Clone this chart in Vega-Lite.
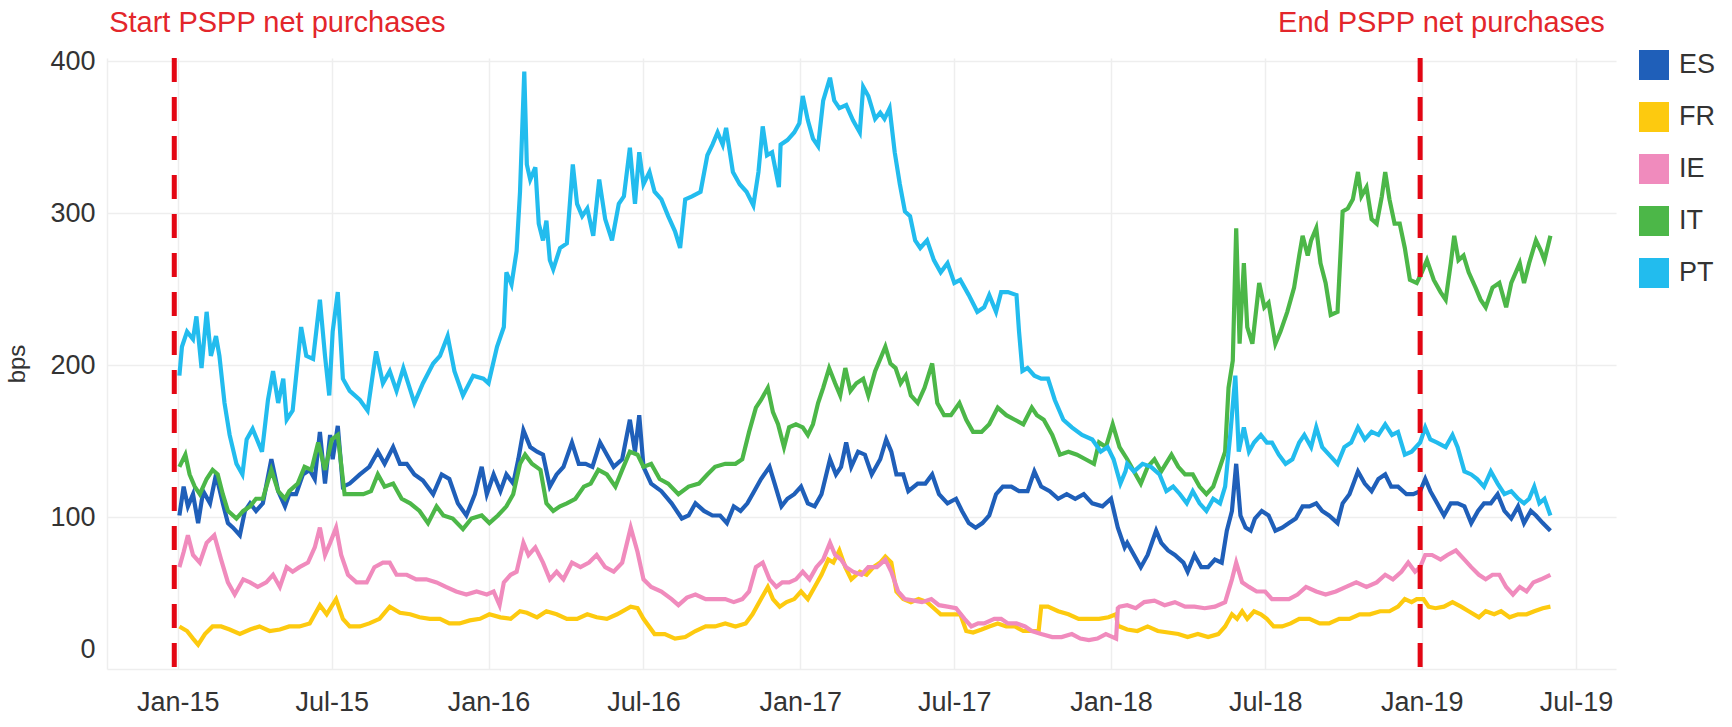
{
"$schema": "https://vega.github.io/schema/vega-lite/v6.json",
"width": 1509,
"height": 611,
"padding": {"left": 5, "top": 9, "right": 40, "bottom": 5},
"background": "white",
"config": {"view": {"stroke": null}, "font": "Liberation Sans"},
"datasets": {
"ev": [{"d": "2014-12-28"}, {"d": "2018-12-30"}],
"lab": [{"d": "2015-04-28", "v": 425, "t": "Start PSPP net purchases"}, {"d": "2019-01-24", "v": 425, "t": "End PSPP net purchases"}],
"s": [
{"c":"ES","d":"2015-01-03","v":101},{"c":"ES","d":"2015-01-08","v":120},{"c":"ES","d":"2015-01-13","v":107},{"c":"ES","d":"2015-01-19","v":115},{"c":"ES","d":"2015-01-25","v":96},{"c":"ES","d":"2015-01-31","v":117},{"c":"ES","d":"2015-02-08","v":109},{"c":"ES","d":"2015-02-15","v":128},{"c":"ES","d":"2015-02-23","v":109},{"c":"ES","d":"2015-03-01","v":96},{"c":"ES","d":"2015-03-07","v":93},{"c":"ES","d":"2015-03-15","v":88},{"c":"ES","d":"2015-03-21","v":104},{"c":"ES","d":"2015-03-27","v":109},{"c":"ES","d":"2015-04-03","v":104},{"c":"ES","d":"2015-04-11","v":109},{"c":"ES","d":"2015-04-21","v":138},{"c":"ES","d":"2015-04-29","v":117},{"c":"ES","d":"2015-05-07","v":107},{"c":"ES","d":"2015-05-12","v":115},{"c":"ES","d":"2015-05-20","v":115},{"c":"ES","d":"2015-05-28","v":128},{"c":"ES","d":"2015-06-05","v":131},{"c":"ES","d":"2015-06-11","v":125},{"c":"ES","d":"2015-06-17","v":156},{"c":"ES","d":"2015-06-23","v":122},{"c":"ES","d":"2015-06-29","v":154},{"c":"ES","d":"2015-07-02","v":138},{"c":"ES","d":"2015-07-08","v":160},{"c":"ES","d":"2015-07-14","v":120},{"c":"ES","d":"2015-07-22","v":122},{"c":"ES","d":"2015-08-03","v":128},{"c":"ES","d":"2015-08-14","v":133},{"c":"ES","d":"2015-08-24","v":143},{"c":"ES","d":"2015-09-01","v":135},{"c":"ES","d":"2015-09-11","v":146},{"c":"ES","d":"2015-09-19","v":135},{"c":"ES","d":"2015-09-27","v":135},{"c":"ES","d":"2015-10-06","v":128},{"c":"ES","d":"2015-10-16","v":124},{"c":"ES","d":"2015-10-28","v":115},{"c":"ES","d":"2015-11-07","v":128},{"c":"ES","d":"2015-11-16","v":125},{"c":"ES","d":"2015-11-26","v":109},{"c":"ES","d":"2015-12-06","v":101},{"c":"ES","d":"2015-12-16","v":115},{"c":"ES","d":"2015-12-24","v":133},{"c":"ES","d":"2015-12-30","v":115},{"c":"ES","d":"2016-01-07","v":128},{"c":"ES","d":"2016-01-15","v":117},{"c":"ES","d":"2016-01-22","v":128},{"c":"ES","d":"2016-01-30","v":122},{"c":"ES","d":"2016-02-05","v":138},{"c":"ES","d":"2016-02-11","v":157},{"c":"ES","d":"2016-02-19","v":146},{"c":"ES","d":"2016-02-27","v":143},{"c":"ES","d":"2016-03-05","v":141},{"c":"ES","d":"2016-03-13","v":120},{"c":"ES","d":"2016-03-21","v":128},{"c":"ES","d":"2016-03-29","v":133},{"c":"ES","d":"2016-04-08","v":149},{"c":"ES","d":"2016-04-16","v":135},{"c":"ES","d":"2016-04-24","v":135},{"c":"ES","d":"2016-05-02","v":133},{"c":"ES","d":"2016-05-11","v":149},{"c":"ES","d":"2016-05-19","v":141},{"c":"ES","d":"2016-05-27","v":133},{"c":"ES","d":"2016-06-06","v":138},{"c":"ES","d":"2016-06-15","v":164},{"c":"ES","d":"2016-06-21","v":143},{"c":"ES","d":"2016-06-26","v":167},{"c":"ES","d":"2016-07-01","v":133},{"c":"ES","d":"2016-07-10","v":122},{"c":"ES","d":"2016-07-22","v":117},{"c":"ES","d":"2016-08-03","v":109},{"c":"ES","d":"2016-08-15","v":99},{"c":"ES","d":"2016-08-23","v":101},{"c":"ES","d":"2016-08-31","v":109},{"c":"ES","d":"2016-09-10","v":104},{"c":"ES","d":"2016-09-20","v":101},{"c":"ES","d":"2016-09-29","v":101},{"c":"ES","d":"2016-10-07","v":96},{"c":"ES","d":"2016-10-15","v":107},{"c":"ES","d":"2016-10-23","v":104},{"c":"ES","d":"2016-10-31","v":109},{"c":"ES","d":"2016-11-08","v":117},{"c":"ES","d":"2016-11-16","v":125},{"c":"ES","d":"2016-11-26","v":133},{"c":"ES","d":"2016-12-02","v":122},{"c":"ES","d":"2016-12-10","v":107},{"c":"ES","d":"2016-12-17","v":112},{"c":"ES","d":"2016-12-25","v":115},{"c":"ES","d":"2017-01-02","v":120},{"c":"ES","d":"2017-01-10","v":109},{"c":"ES","d":"2017-01-18","v":107},{"c":"ES","d":"2017-01-26","v":115},{"c":"ES","d":"2017-02-05","v":138},{"c":"ES","d":"2017-02-12","v":128},{"c":"ES","d":"2017-02-18","v":133},{"c":"ES","d":"2017-02-24","v":149},{"c":"ES","d":"2017-03-02","v":133},{"c":"ES","d":"2017-03-10","v":143},{"c":"ES","d":"2017-03-18","v":141},{"c":"ES","d":"2017-03-26","v":128},{"c":"ES","d":"2017-04-05","v":138},{"c":"ES","d":"2017-04-12","v":151},{"c":"ES","d":"2017-04-18","v":143},{"c":"ES","d":"2017-04-24","v":128},{"c":"ES","d":"2017-05-02","v":128},{"c":"ES","d":"2017-05-08","v":117},{"c":"ES","d":"2017-05-19","v":122},{"c":"ES","d":"2017-05-28","v":122},{"c":"ES","d":"2017-06-05","v":128},{"c":"ES","d":"2017-06-13","v":115},{"c":"ES","d":"2017-06-23","v":109},{"c":"ES","d":"2017-07-03","v":112},{"c":"ES","d":"2017-07-10","v":104},{"c":"ES","d":"2017-07-18","v":96},{"c":"ES","d":"2017-07-26","v":93},{"c":"ES","d":"2017-08-03","v":96},{"c":"ES","d":"2017-08-11","v":101},{"c":"ES","d":"2017-08-19","v":115},{"c":"ES","d":"2017-08-27","v":120},{"c":"ES","d":"2017-09-06","v":120},{"c":"ES","d":"2017-09-15","v":117},{"c":"ES","d":"2017-09-25","v":117},{"c":"ES","d":"2017-10-03","v":130},{"c":"ES","d":"2017-10-11","v":120},{"c":"ES","d":"2017-10-21","v":117},{"c":"ES","d":"2017-10-31","v":112},{"c":"ES","d":"2017-11-10","v":115},{"c":"ES","d":"2017-11-20","v":112},{"c":"ES","d":"2017-11-30","v":115},{"c":"ES","d":"2017-12-10","v":109},{"c":"ES","d":"2017-12-22","v":107},{"c":"ES","d":"2018-01-01","v":112},{"c":"ES","d":"2018-01-09","v":93},{"c":"ES","d":"2018-01-17","v":80},{"c":"ES","d":"2018-01-20","v":83},{"c":"ES","d":"2018-01-28","v":75},{"c":"ES","d":"2018-02-05","v":67},{"c":"ES","d":"2018-02-13","v":75},{"c":"ES","d":"2018-02-23","v":91},{"c":"ES","d":"2018-03-01","v":83},{"c":"ES","d":"2018-03-09","v":78},{"c":"ES","d":"2018-03-17","v":75},{"c":"ES","d":"2018-03-27","v":70},{"c":"ES","d":"2018-04-01","v":64},{"c":"ES","d":"2018-04-09","v":75},{"c":"ES","d":"2018-04-17","v":67},{"c":"ES","d":"2018-04-25","v":67},{"c":"ES","d":"2018-05-03","v":72},{"c":"ES","d":"2018-05-11","v":70},{"c":"ES","d":"2018-05-17","v":91},{"c":"ES","d":"2018-05-23","v":104},{"c":"ES","d":"2018-05-28","v":135},{"c":"ES","d":"2018-06-02","v":101},{"c":"ES","d":"2018-06-08","v":93},{"c":"ES","d":"2018-06-14","v":91},{"c":"ES","d":"2018-06-19","v":99},{"c":"ES","d":"2018-06-27","v":104},{"c":"ES","d":"2018-07-05","v":101},{"c":"ES","d":"2018-07-13","v":91},{"c":"ES","d":"2018-07-21","v":93},{"c":"ES","d":"2018-07-29","v":96},{"c":"ES","d":"2018-08-06","v":99},{"c":"ES","d":"2018-08-14","v":107},{"c":"ES","d":"2018-08-22","v":107},{"c":"ES","d":"2018-08-30","v":109},{"c":"ES","d":"2018-09-06","v":104},{"c":"ES","d":"2018-09-14","v":101},{"c":"ES","d":"2018-09-24","v":96},{"c":"ES","d":"2018-09-30","v":109},{"c":"ES","d":"2018-10-08","v":115},{"c":"ES","d":"2018-10-18","v":130},{"c":"ES","d":"2018-10-26","v":122},{"c":"ES","d":"2018-11-03","v":117},{"c":"ES","d":"2018-11-11","v":125},{"c":"ES","d":"2018-11-19","v":128},{"c":"ES","d":"2018-11-26","v":120},{"c":"ES","d":"2018-12-04","v":120},{"c":"ES","d":"2018-12-14","v":115},{"c":"ES","d":"2018-12-22","v":115},{"c":"ES","d":"2018-12-30","v":117},{"c":"ES","d":"2019-01-05","v":125},{"c":"ES","d":"2019-01-11","v":117},{"c":"ES","d":"2019-01-19","v":109},{"c":"ES","d":"2019-01-27","v":101},{"c":"ES","d":"2019-02-04","v":109},{"c":"ES","d":"2019-02-12","v":109},{"c":"ES","d":"2019-02-20","v":107},{"c":"ES","d":"2019-02-28","v":96},{"c":"ES","d":"2019-03-08","v":104},{"c":"ES","d":"2019-03-15","v":109},{"c":"ES","d":"2019-03-23","v":109},{"c":"ES","d":"2019-03-31","v":115},{"c":"ES","d":"2019-04-08","v":104},{"c":"ES","d":"2019-04-16","v":99},{"c":"ES","d":"2019-04-24","v":107},{"c":"ES","d":"2019-05-01","v":96},{"c":"ES","d":"2019-05-09","v":104},{"c":"ES","d":"2019-05-15","v":101},{"c":"ES","d":"2019-05-23","v":96},{"c":"ES","d":"2019-06-01","v":91},

{"c":"FR","d":"2015-01-03","v":28},{"c":"FR","d":"2015-01-12","v":25},{"c":"FR","d":"2015-01-19","v":20},{"c":"FR","d":"2015-01-25","v":16},{"c":"FR","d":"2015-02-02","v":23},{"c":"FR","d":"2015-02-11","v":28},{"c":"FR","d":"2015-02-21","v":28},{"c":"FR","d":"2015-03-03","v":26},{"c":"FR","d":"2015-03-15","v":23},{"c":"FR","d":"2015-03-27","v":26},{"c":"FR","d":"2015-04-07","v":28},{"c":"FR","d":"2015-04-19","v":25},{"c":"FR","d":"2015-05-01","v":26},{"c":"FR","d":"2015-05-12","v":28},{"c":"FR","d":"2015-05-24","v":28},{"c":"FR","d":"2015-06-05","v":30},{"c":"FR","d":"2015-06-17","v":42},{"c":"FR","d":"2015-06-25","v":36},{"c":"FR","d":"2015-07-06","v":46},{"c":"FR","d":"2015-07-14","v":33},{"c":"FR","d":"2015-07-22","v":28},{"c":"FR","d":"2015-08-03","v":28},{"c":"FR","d":"2015-08-14","v":30},{"c":"FR","d":"2015-08-26","v":33},{"c":"FR","d":"2015-09-07","v":41},{"c":"FR","d":"2015-09-19","v":37},{"c":"FR","d":"2015-10-01","v":36},{"c":"FR","d":"2015-10-12","v":34},{"c":"FR","d":"2015-10-24","v":33},{"c":"FR","d":"2015-11-05","v":33},{"c":"FR","d":"2015-11-16","v":30},{"c":"FR","d":"2015-11-28","v":30},{"c":"FR","d":"2015-12-10","v":32},{"c":"FR","d":"2015-12-22","v":33},{"c":"FR","d":"2016-01-02","v":36},{"c":"FR","d":"2016-01-15","v":34},{"c":"FR","d":"2016-01-27","v":33},{"c":"FR","d":"2016-02-07","v":38},{"c":"FR","d":"2016-02-15","v":37},{"c":"FR","d":"2016-02-27","v":34},{"c":"FR","d":"2016-03-09","v":38},{"c":"FR","d":"2016-03-21","v":36},{"c":"FR","d":"2016-04-02","v":33},{"c":"FR","d":"2016-04-14","v":33},{"c":"FR","d":"2016-04-26","v":36},{"c":"FR","d":"2016-05-07","v":34},{"c":"FR","d":"2016-05-19","v":33},{"c":"FR","d":"2016-05-31","v":36},{"c":"FR","d":"2016-06-16","v":41},{"c":"FR","d":"2016-06-24","v":40},{"c":"FR","d":"2016-07-01","v":33},{"c":"FR","d":"2016-07-14","v":23},{"c":"FR","d":"2016-07-26","v":23},{"c":"FR","d":"2016-08-07","v":20},{"c":"FR","d":"2016-08-19","v":21},{"c":"FR","d":"2016-08-31","v":25},{"c":"FR","d":"2016-09-12","v":28},{"c":"FR","d":"2016-09-23","v":28},{"c":"FR","d":"2016-10-05","v":30},{"c":"FR","d":"2016-10-17","v":28},{"c":"FR","d":"2016-10-29","v":30},{"c":"FR","d":"2016-11-06","v":36},{"c":"FR","d":"2016-11-16","v":46},{"c":"FR","d":"2016-11-24","v":54},{"c":"FR","d":"2016-11-30","v":46},{"c":"FR","d":"2016-12-08","v":41},{"c":"FR","d":"2016-12-16","v":44},{"c":"FR","d":"2016-12-25","v":46},{"c":"FR","d":"2017-01-02","v":51},{"c":"FR","d":"2017-01-10","v":46},{"c":"FR","d":"2017-01-18","v":54},{"c":"FR","d":"2017-01-26","v":62},{"c":"FR","d":"2017-02-03","v":72},{"c":"FR","d":"2017-02-09","v":70},{"c":"FR","d":"2017-02-16","v":78},{"c":"FR","d":"2017-02-23","v":67},{"c":"FR","d":"2017-03-02","v":59},{"c":"FR","d":"2017-03-12","v":64},{"c":"FR","d":"2017-03-20","v":62},{"c":"FR","d":"2017-03-28","v":67},{"c":"FR","d":"2017-04-05","v":70},{"c":"FR","d":"2017-04-11","v":74},{"c":"FR","d":"2017-04-18","v":70},{"c":"FR","d":"2017-04-24","v":51},{"c":"FR","d":"2017-05-02","v":46},{"c":"FR","d":"2017-05-11","v":44},{"c":"FR","d":"2017-05-20","v":46},{"c":"FR","d":"2017-05-30","v":44},{"c":"FR","d":"2017-06-07","v":40},{"c":"FR","d":"2017-06-15","v":36},{"c":"FR","d":"2017-06-23","v":36},{"c":"FR","d":"2017-07-01","v":36},{"c":"FR","d":"2017-07-08","v":36},{"c":"FR","d":"2017-07-15","v":25},{"c":"FR","d":"2017-07-23","v":24},{"c":"FR","d":"2017-08-02","v":26},{"c":"FR","d":"2017-08-11","v":28},{"c":"FR","d":"2017-08-21","v":30},{"c":"FR","d":"2017-08-31","v":28},{"c":"FR","d":"2017-09-10","v":28},{"c":"FR","d":"2017-09-20","v":25},{"c":"FR","d":"2017-09-30","v":25},{"c":"FR","d":"2017-10-08","v":25},{"c":"FR","d":"2017-10-11","v":41},{"c":"FR","d":"2017-10-19","v":41},{"c":"FR","d":"2017-10-31","v":38},{"c":"FR","d":"2017-11-12","v":36},{"c":"FR","d":"2017-11-24","v":33},{"c":"FR","d":"2017-12-06","v":33},{"c":"FR","d":"2017-12-18","v":33},{"c":"FR","d":"2017-12-29","v":34},{"c":"FR","d":"2018-01-07","v":36},{"c":"FR","d":"2018-01-09","v":28},{"c":"FR","d":"2018-01-11","v":28},{"c":"FR","d":"2018-01-20","v":26},{"c":"FR","d":"2018-02-01","v":25},{"c":"FR","d":"2018-02-13","v":28},{"c":"FR","d":"2018-02-25","v":25},{"c":"FR","d":"2018-03-09","v":24},{"c":"FR","d":"2018-03-21","v":23},{"c":"FR","d":"2018-04-01","v":21},{"c":"FR","d":"2018-04-13","v":23},{"c":"FR","d":"2018-04-25","v":21},{"c":"FR","d":"2018-05-07","v":23},{"c":"FR","d":"2018-05-15","v":28},{"c":"FR","d":"2018-05-23","v":36},{"c":"FR","d":"2018-05-29","v":33},{"c":"FR","d":"2018-06-04","v":38},{"c":"FR","d":"2018-06-10","v":33},{"c":"FR","d":"2018-06-18","v":38},{"c":"FR","d":"2018-06-26","v":36},{"c":"FR","d":"2018-07-03","v":33},{"c":"FR","d":"2018-07-11","v":28},{"c":"FR","d":"2018-07-21","v":28},{"c":"FR","d":"2018-07-31","v":30},{"c":"FR","d":"2018-08-10","v":33},{"c":"FR","d":"2018-08-22","v":33},{"c":"FR","d":"2018-09-03","v":30},{"c":"FR","d":"2018-09-14","v":30},{"c":"FR","d":"2018-09-26","v":33},{"c":"FR","d":"2018-10-08","v":33},{"c":"FR","d":"2018-10-20","v":36},{"c":"FR","d":"2018-11-01","v":36},{"c":"FR","d":"2018-11-13","v":38},{"c":"FR","d":"2018-11-24","v":38},{"c":"FR","d":"2018-12-04","v":41},{"c":"FR","d":"2018-12-12","v":46},{"c":"FR","d":"2018-12-20","v":44},{"c":"FR","d":"2018-12-26","v":46},{"c":"FR","d":"2019-01-03","v":46},{"c":"FR","d":"2019-01-09","v":41},{"c":"FR","d":"2019-01-17","v":40},{"c":"FR","d":"2019-01-27","v":41},{"c":"FR","d":"2019-02-06","v":44},{"c":"FR","d":"2019-02-16","v":41},{"c":"FR","d":"2019-02-25","v":38},{"c":"FR","d":"2019-03-09","v":34},{"c":"FR","d":"2019-03-17","v":38},{"c":"FR","d":"2019-03-27","v":36},{"c":"FR","d":"2019-04-04","v":38},{"c":"FR","d":"2019-04-14","v":34},{"c":"FR","d":"2019-04-24","v":36},{"c":"FR","d":"2019-05-04","v":36},{"c":"FR","d":"2019-05-13","v":38},{"c":"FR","d":"2019-05-23","v":40},{"c":"FR","d":"2019-06-01","v":41},

{"c":"IE","d":"2015-01-03","v":67},{"c":"IE","d":"2015-01-08","v":77},{"c":"IE","d":"2015-01-13","v":88},{"c":"IE","d":"2015-01-19","v":75},{"c":"IE","d":"2015-01-27","v":70},{"c":"IE","d":"2015-02-04","v":83},{"c":"IE","d":"2015-02-13","v":88},{"c":"IE","d":"2015-02-21","v":72},{"c":"IE","d":"2015-03-01","v":57},{"c":"IE","d":"2015-03-09","v":49},{"c":"IE","d":"2015-03-19","v":59},{"c":"IE","d":"2015-03-27","v":57},{"c":"IE","d":"2015-04-05","v":54},{"c":"IE","d":"2015-04-15","v":57},{"c":"IE","d":"2015-04-23","v":62},{"c":"IE","d":"2015-05-01","v":54},{"c":"IE","d":"2015-05-09","v":67},{"c":"IE","d":"2015-05-16","v":64},{"c":"IE","d":"2015-05-24","v":67},{"c":"IE","d":"2015-06-03","v":70},{"c":"IE","d":"2015-06-11","v":80},{"c":"IE","d":"2015-06-17","v":93},{"c":"IE","d":"2015-06-23","v":75},{"c":"IE","d":"2015-06-29","v":83},{"c":"IE","d":"2015-07-06","v":93},{"c":"IE","d":"2015-07-12","v":75},{"c":"IE","d":"2015-07-20","v":62},{"c":"IE","d":"2015-07-30","v":57},{"c":"IE","d":"2015-08-11","v":57},{"c":"IE","d":"2015-08-20","v":67},{"c":"IE","d":"2015-08-30","v":70},{"c":"IE","d":"2015-09-07","v":70},{"c":"IE","d":"2015-09-15","v":62},{"c":"IE","d":"2015-09-27","v":62},{"c":"IE","d":"2015-10-08","v":59},{"c":"IE","d":"2015-10-20","v":59},{"c":"IE","d":"2015-11-01","v":57},{"c":"IE","d":"2015-11-12","v":54},{"c":"IE","d":"2015-11-24","v":51},{"c":"IE","d":"2015-12-06","v":49},{"c":"IE","d":"2015-12-18","v":51},{"c":"IE","d":"2015-12-30","v":49},{"c":"IE","d":"2016-01-07","v":51},{"c":"IE","d":"2016-01-14","v":42},{"c":"IE","d":"2016-01-19","v":57},{"c":"IE","d":"2016-01-27","v":62},{"c":"IE","d":"2016-02-03","v":64},{"c":"IE","d":"2016-02-11","v":83},{"c":"IE","d":"2016-02-17","v":75},{"c":"IE","d":"2016-02-25","v":80},{"c":"IE","d":"2016-03-05","v":70},{"c":"IE","d":"2016-03-13","v":59},{"c":"IE","d":"2016-03-21","v":64},{"c":"IE","d":"2016-03-29","v":59},{"c":"IE","d":"2016-04-08","v":70},{"c":"IE","d":"2016-04-18","v":67},{"c":"IE","d":"2016-04-28","v":70},{"c":"IE","d":"2016-05-07","v":75},{"c":"IE","d":"2016-05-17","v":67},{"c":"IE","d":"2016-05-27","v":64},{"c":"IE","d":"2016-06-06","v":70},{"c":"IE","d":"2016-06-16","v":93},{"c":"IE","d":"2016-06-24","v":77},{"c":"IE","d":"2016-07-01","v":59},{"c":"IE","d":"2016-07-10","v":54},{"c":"IE","d":"2016-07-22","v":51},{"c":"IE","d":"2016-08-03","v":46},{"c":"IE","d":"2016-08-11","v":42},{"c":"IE","d":"2016-08-21","v":47},{"c":"IE","d":"2016-08-31","v":49},{"c":"IE","d":"2016-09-12","v":46},{"c":"IE","d":"2016-09-23","v":46},{"c":"IE","d":"2016-10-05","v":46},{"c":"IE","d":"2016-10-15","v":44},{"c":"IE","d":"2016-10-25","v":46},{"c":"IE","d":"2016-11-02","v":51},{"c":"IE","d":"2016-11-10","v":67},{"c":"IE","d":"2016-11-18","v":70},{"c":"IE","d":"2016-11-26","v":59},{"c":"IE","d":"2016-12-04","v":54},{"c":"IE","d":"2016-12-11","v":57},{"c":"IE","d":"2016-12-19","v":57},{"c":"IE","d":"2016-12-27","v":59},{"c":"IE","d":"2017-01-04","v":64},{"c":"IE","d":"2017-01-12","v":59},{"c":"IE","d":"2017-01-20","v":67},{"c":"IE","d":"2017-01-28","v":72},{"c":"IE","d":"2017-02-05","v":83},{"c":"IE","d":"2017-02-11","v":75},{"c":"IE","d":"2017-02-18","v":72},{"c":"IE","d":"2017-02-24","v":67},{"c":"IE","d":"2017-03-04","v":64},{"c":"IE","d":"2017-03-14","v":62},{"c":"IE","d":"2017-03-22","v":67},{"c":"IE","d":"2017-04-01","v":67},{"c":"IE","d":"2017-04-11","v":72},{"c":"IE","d":"2017-04-18","v":64},{"c":"IE","d":"2017-04-26","v":51},{"c":"IE","d":"2017-05-04","v":46},{"c":"IE","d":"2017-05-15","v":45},{"c":"IE","d":"2017-05-24","v":44},{"c":"IE","d":"2017-06-04","v":46},{"c":"IE","d":"2017-06-13","v":42},{"c":"IE","d":"2017-06-23","v":41},{"c":"IE","d":"2017-07-03","v":40},{"c":"IE","d":"2017-07-13","v":33},{"c":"IE","d":"2017-07-21","v":28},{"c":"IE","d":"2017-07-29","v":30},{"c":"IE","d":"2017-08-05","v":30},{"c":"IE","d":"2017-08-17","v":33},{"c":"IE","d":"2017-08-25","v":33},{"c":"IE","d":"2017-09-02","v":30},{"c":"IE","d":"2017-09-12","v":30},{"c":"IE","d":"2017-09-22","v":28},{"c":"IE","d":"2017-09-30","v":25},{"c":"IE","d":"2017-10-11","v":23},{"c":"IE","d":"2017-10-24","v":21},{"c":"IE","d":"2017-11-04","v":21},{"c":"IE","d":"2017-11-16","v":23},{"c":"IE","d":"2017-11-26","v":20},{"c":"IE","d":"2017-12-06","v":19},{"c":"IE","d":"2017-12-16","v":20},{"c":"IE","d":"2017-12-26","v":23},{"c":"IE","d":"2018-01-07","v":20},{"c":"IE","d":"2018-01-09","v":40},{"c":"IE","d":"2018-01-11","v":41},{"c":"IE","d":"2018-01-20","v":42},{"c":"IE","d":"2018-01-30","v":40},{"c":"IE","d":"2018-02-09","v":44},{"c":"IE","d":"2018-02-21","v":45},{"c":"IE","d":"2018-03-05","v":42},{"c":"IE","d":"2018-03-17","v":44},{"c":"IE","d":"2018-03-29","v":41},{"c":"IE","d":"2018-04-09","v":41},{"c":"IE","d":"2018-04-21","v":40},{"c":"IE","d":"2018-05-03","v":41},{"c":"IE","d":"2018-05-15","v":44},{"c":"IE","d":"2018-05-23","v":59},{"c":"IE","d":"2018-05-28","v":70},{"c":"IE","d":"2018-06-04","v":57},{"c":"IE","d":"2018-06-12","v":54},{"c":"IE","d":"2018-06-21","v":51},{"c":"IE","d":"2018-07-01","v":51},{"c":"IE","d":"2018-07-09","v":46},{"c":"IE","d":"2018-07-19","v":46},{"c":"IE","d":"2018-07-29","v":46},{"c":"IE","d":"2018-08-08","v":49},{"c":"IE","d":"2018-08-18","v":54},{"c":"IE","d":"2018-08-30","v":51},{"c":"IE","d":"2018-09-10","v":49},{"c":"IE","d":"2018-09-22","v":51},{"c":"IE","d":"2018-10-04","v":54},{"c":"IE","d":"2018-10-16","v":57},{"c":"IE","d":"2018-10-28","v":54},{"c":"IE","d":"2018-11-09","v":57},{"c":"IE","d":"2018-11-19","v":62},{"c":"IE","d":"2018-11-28","v":59},{"c":"IE","d":"2018-12-08","v":64},{"c":"IE","d":"2018-12-16","v":70},{"c":"IE","d":"2018-12-24","v":64},{"c":"IE","d":"2018-12-30","v":67},{"c":"IE","d":"2019-01-05","v":75},{"c":"IE","d":"2019-01-13","v":75},{"c":"IE","d":"2019-01-23","v":72},{"c":"IE","d":"2019-01-31","v":75},{"c":"IE","d":"2019-02-10","v":78},{"c":"IE","d":"2019-02-20","v":72},{"c":"IE","d":"2019-02-28","v":67},{"c":"IE","d":"2019-03-09","v":62},{"c":"IE","d":"2019-03-17","v":59},{"c":"IE","d":"2019-03-25","v":62},{"c":"IE","d":"2019-04-02","v":62},{"c":"IE","d":"2019-04-10","v":54},{"c":"IE","d":"2019-04-18","v":49},{"c":"IE","d":"2019-04-26","v":54},{"c":"IE","d":"2019-05-04","v":51},{"c":"IE","d":"2019-05-12","v":57},{"c":"IE","d":"2019-05-21","v":59},{"c":"IE","d":"2019-06-01","v":62},

{"c":"IT","d":"2015-01-03","v":133},{"c":"IT","d":"2015-01-10","v":141},{"c":"IT","d":"2015-01-15","v":128},{"c":"IT","d":"2015-01-21","v":120},{"c":"IT","d":"2015-01-27","v":115},{"c":"IT","d":"2015-02-04","v":125},{"c":"IT","d":"2015-02-11","v":131},{"c":"IT","d":"2015-02-17","v":128},{"c":"IT","d":"2015-02-23","v":115},{"c":"IT","d":"2015-03-01","v":104},{"c":"IT","d":"2015-03-11","v":99},{"c":"IT","d":"2015-03-19","v":104},{"c":"IT","d":"2015-03-27","v":107},{"c":"IT","d":"2015-04-03","v":112},{"c":"IT","d":"2015-04-11","v":112},{"c":"IT","d":"2015-04-21","v":131},{"c":"IT","d":"2015-04-29","v":117},{"c":"IT","d":"2015-05-07","v":112},{"c":"IT","d":"2015-05-12","v":117},{"c":"IT","d":"2015-05-22","v":122},{"c":"IT","d":"2015-05-30","v":133},{"c":"IT","d":"2015-06-07","v":131},{"c":"IT","d":"2015-06-15","v":149},{"c":"IT","d":"2015-06-23","v":131},{"c":"IT","d":"2015-07-01","v":151},{"c":"IT","d":"2015-07-08","v":154},{"c":"IT","d":"2015-07-16","v":115},{"c":"IT","d":"2015-07-26","v":115},{"c":"IT","d":"2015-08-07","v":115},{"c":"IT","d":"2015-08-16","v":117},{"c":"IT","d":"2015-08-24","v":128},{"c":"IT","d":"2015-09-01","v":120},{"c":"IT","d":"2015-09-11","v":122},{"c":"IT","d":"2015-09-21","v":112},{"c":"IT","d":"2015-10-01","v":109},{"c":"IT","d":"2015-10-12","v":104},{"c":"IT","d":"2015-10-22","v":96},{"c":"IT","d":"2015-11-01","v":107},{"c":"IT","d":"2015-11-09","v":101},{"c":"IT","d":"2015-11-20","v":99},{"c":"IT","d":"2015-12-02","v":92},{"c":"IT","d":"2015-12-12","v":99},{"c":"IT","d":"2015-12-24","v":101},{"c":"IT","d":"2016-01-02","v":96},{"c":"IT","d":"2016-01-12","v":101},{"c":"IT","d":"2016-01-22","v":107},{"c":"IT","d":"2016-01-30","v":115},{"c":"IT","d":"2016-02-07","v":135},{"c":"IT","d":"2016-02-13","v":141},{"c":"IT","d":"2016-02-21","v":135},{"c":"IT","d":"2016-03-02","v":131},{"c":"IT","d":"2016-03-09","v":109},{"c":"IT","d":"2016-03-17","v":104},{"c":"IT","d":"2016-03-25","v":107},{"c":"IT","d":"2016-04-02","v":109},{"c":"IT","d":"2016-04-12","v":112},{"c":"IT","d":"2016-04-22","v":120},{"c":"IT","d":"2016-04-30","v":122},{"c":"IT","d":"2016-05-09","v":131},{"c":"IT","d":"2016-05-19","v":128},{"c":"IT","d":"2016-05-29","v":120},{"c":"IT","d":"2016-06-06","v":131},{"c":"IT","d":"2016-06-15","v":143},{"c":"IT","d":"2016-06-24","v":141},{"c":"IT","d":"2016-07-01","v":133},{"c":"IT","d":"2016-07-10","v":135},{"c":"IT","d":"2016-07-20","v":125},{"c":"IT","d":"2016-07-30","v":122},{"c":"IT","d":"2016-08-11","v":115},{"c":"IT","d":"2016-08-23","v":120},{"c":"IT","d":"2016-09-04","v":122},{"c":"IT","d":"2016-09-14","v":128},{"c":"IT","d":"2016-09-23","v":133},{"c":"IT","d":"2016-10-05","v":135},{"c":"IT","d":"2016-10-17","v":135},{"c":"IT","d":"2016-10-25","v":138},{"c":"IT","d":"2016-11-02","v":156},{"c":"IT","d":"2016-11-10","v":172},{"c":"IT","d":"2016-11-16","v":177},{"c":"IT","d":"2016-11-24","v":185},{"c":"IT","d":"2016-11-30","v":169},{"c":"IT","d":"2016-12-06","v":161},{"c":"IT","d":"2016-12-13","v":146},{"c":"IT","d":"2016-12-19","v":159},{"c":"IT","d":"2016-12-27","v":161},{"c":"IT","d":"2017-01-04","v":159},{"c":"IT","d":"2017-01-10","v":154},{"c":"IT","d":"2017-01-16","v":161},{"c":"IT","d":"2017-01-22","v":175},{"c":"IT","d":"2017-01-28","v":185},{"c":"IT","d":"2017-02-04","v":198},{"c":"IT","d":"2017-02-11","v":188},{"c":"IT","d":"2017-02-17","v":180},{"c":"IT","d":"2017-02-23","v":198},{"c":"IT","d":"2017-03-01","v":183},{"c":"IT","d":"2017-03-08","v":188},{"c":"IT","d":"2017-03-16","v":191},{"c":"IT","d":"2017-03-22","v":180},{"c":"IT","d":"2017-03-30","v":196},{"c":"IT","d":"2017-04-05","v":204},{"c":"IT","d":"2017-04-11","v":212},{"c":"IT","d":"2017-04-17","v":201},{"c":"IT","d":"2017-04-23","v":198},{"c":"IT","d":"2017-04-29","v":188},{"c":"IT","d":"2017-05-05","v":193},{"c":"IT","d":"2017-05-11","v":180},{"c":"IT","d":"2017-05-19","v":175},{"c":"IT","d":"2017-05-27","v":185},{"c":"IT","d":"2017-06-05","v":201},{"c":"IT","d":"2017-06-11","v":175},{"c":"IT","d":"2017-06-19","v":167},{"c":"IT","d":"2017-06-27","v":167},{"c":"IT","d":"2017-07-07","v":175},{"c":"IT","d":"2017-07-15","v":164},{"c":"IT","d":"2017-07-23","v":156},{"c":"IT","d":"2017-08-02","v":156},{"c":"IT","d":"2017-08-11","v":161},{"c":"IT","d":"2017-08-21","v":172},{"c":"IT","d":"2017-08-31","v":167},{"c":"IT","d":"2017-09-10","v":164},{"c":"IT","d":"2017-09-20","v":161},{"c":"IT","d":"2017-09-30","v":172},{"c":"IT","d":"2017-10-06","v":167},{"c":"IT","d":"2017-10-14","v":164},{"c":"IT","d":"2017-10-24","v":154},{"c":"IT","d":"2017-11-02","v":141},{"c":"IT","d":"2017-11-12","v":143},{"c":"IT","d":"2017-11-22","v":141},{"c":"IT","d":"2017-12-02","v":138},{"c":"IT","d":"2017-12-12","v":135},{"c":"IT","d":"2017-12-18","v":149},{"c":"IT","d":"2017-12-26","v":146},{"c":"IT","d":"2018-01-03","v":161},{"c":"IT","d":"2018-01-11","v":146},{"c":"IT","d":"2018-01-20","v":138},{"c":"IT","d":"2018-01-28","v":130},{"c":"IT","d":"2018-02-05","v":122},{"c":"IT","d":"2018-02-13","v":133},{"c":"IT","d":"2018-02-21","v":138},{"c":"IT","d":"2018-03-01","v":130},{"c":"IT","d":"2018-03-13","v":141},{"c":"IT","d":"2018-03-21","v":133},{"c":"IT","d":"2018-03-29","v":128},{"c":"IT","d":"2018-04-07","v":128},{"c":"IT","d":"2018-04-15","v":120},{"c":"IT","d":"2018-04-23","v":115},{"c":"IT","d":"2018-05-01","v":120},{"c":"IT","d":"2018-05-09","v":133},{"c":"IT","d":"2018-05-15","v":143},{"c":"IT","d":"2018-05-19","v":185},{"c":"IT","d":"2018-05-24","v":203},{"c":"IT","d":"2018-05-28","v":290},{"c":"IT","d":"2018-06-01","v":214},{"c":"IT","d":"2018-06-06","v":267},{"c":"IT","d":"2018-06-10","v":225},{"c":"IT","d":"2018-06-16","v":214},{"c":"IT","d":"2018-06-24","v":254},{"c":"IT","d":"2018-06-30","v":238},{"c":"IT","d":"2018-07-05","v":241},{"c":"IT","d":"2018-07-13","v":214},{"c":"IT","d":"2018-07-19","v":222},{"c":"IT","d":"2018-07-27","v":235},{"c":"IT","d":"2018-08-04","v":251},{"c":"IT","d":"2018-08-10","v":272},{"c":"IT","d":"2018-08-14","v":285},{"c":"IT","d":"2018-08-20","v":272},{"c":"IT","d":"2018-08-24","v":282},{"c":"IT","d":"2018-08-30","v":290},{"c":"IT","d":"2018-09-04","v":267},{"c":"IT","d":"2018-09-10","v":254},{"c":"IT","d":"2018-09-16","v":233},{"c":"IT","d":"2018-09-24","v":235},{"c":"IT","d":"2018-09-30","v":301},{"c":"IT","d":"2018-10-06","v":303},{"c":"IT","d":"2018-10-12","v":309},{"c":"IT","d":"2018-10-18","v":327},{"c":"IT","d":"2018-10-22","v":311},{"c":"IT","d":"2018-10-28","v":317},{"c":"IT","d":"2018-11-03","v":296},{"c":"IT","d":"2018-11-09","v":293},{"c":"IT","d":"2018-11-15","v":311},{"c":"IT","d":"2018-11-19","v":327},{"c":"IT","d":"2018-11-24","v":309},{"c":"IT","d":"2018-11-30","v":293},{"c":"IT","d":"2018-12-06","v":293},{"c":"IT","d":"2018-12-12","v":277},{"c":"IT","d":"2018-12-18","v":256},{"c":"IT","d":"2018-12-26","v":254},{"c":"IT","d":"2019-01-01","v":261},{"c":"IT","d":"2019-01-07","v":269},{"c":"IT","d":"2019-01-15","v":256},{"c":"IT","d":"2019-01-23","v":248},{"c":"IT","d":"2019-01-29","v":243},{"c":"IT","d":"2019-02-04","v":267},{"c":"IT","d":"2019-02-08","v":285},{"c":"IT","d":"2019-02-13","v":269},{"c":"IT","d":"2019-02-19","v":272},{"c":"IT","d":"2019-02-25","v":261},{"c":"IT","d":"2019-03-05","v":251},{"c":"IT","d":"2019-03-11","v":243},{"c":"IT","d":"2019-03-17","v":238},{"c":"IT","d":"2019-03-25","v":251},{"c":"IT","d":"2019-04-02","v":254},{"c":"IT","d":"2019-04-10","v":238},{"c":"IT","d":"2019-04-16","v":254},{"c":"IT","d":"2019-04-26","v":267},{"c":"IT","d":"2019-05-01","v":254},{"c":"IT","d":"2019-05-07","v":267},{"c":"IT","d":"2019-05-15","v":282},{"c":"IT","d":"2019-05-21","v":275},{"c":"IT","d":"2019-05-25","v":269},{"c":"IT","d":"2019-06-01","v":285},

{"c":"PT","d":"2015-01-03","v":193},{"c":"PT","d":"2015-01-06","v":212},{"c":"PT","d":"2015-01-12","v":222},{"c":"PT","d":"2015-01-19","v":217},{"c":"PT","d":"2015-01-23","v":232},{"c":"PT","d":"2015-01-29","v":198},{"c":"PT","d":"2015-02-04","v":235},{"c":"PT","d":"2015-02-09","v":206},{"c":"PT","d":"2015-02-15","v":219},{"c":"PT","d":"2015-02-19","v":206},{"c":"PT","d":"2015-02-25","v":175},{"c":"PT","d":"2015-03-03","v":154},{"c":"PT","d":"2015-03-11","v":135},{"c":"PT","d":"2015-03-18","v":128},{"c":"PT","d":"2015-03-23","v":151},{"c":"PT","d":"2015-03-30","v":158},{"c":"PT","d":"2015-04-10","v":143},{"c":"PT","d":"2015-04-17","v":177},{"c":"PT","d":"2015-04-23","v":196},{"c":"PT","d":"2015-04-29","v":175},{"c":"PT","d":"2015-05-05","v":191},{"c":"PT","d":"2015-05-09","v":164},{"c":"PT","d":"2015-05-16","v":170},{"c":"PT","d":"2015-05-26","v":225},{"c":"PT","d":"2015-06-01","v":206},{"c":"PT","d":"2015-06-09","v":204},{"c":"PT","d":"2015-06-17","v":243},{"c":"PT","d":"2015-06-23","v":206},{"c":"PT","d":"2015-06-28","v":180},{"c":"PT","d":"2015-07-02","v":222},{"c":"PT","d":"2015-07-08","v":248},{"c":"PT","d":"2015-07-14","v":191},{"c":"PT","d":"2015-07-22","v":183},{"c":"PT","d":"2015-08-03","v":177},{"c":"PT","d":"2015-08-12","v":170},{"c":"PT","d":"2015-08-22","v":209},{"c":"PT","d":"2015-08-30","v":188},{"c":"PT","d":"2015-09-07","v":196},{"c":"PT","d":"2015-09-15","v":183},{"c":"PT","d":"2015-09-23","v":198},{"c":"PT","d":"2015-10-06","v":175},{"c":"PT","d":"2015-10-16","v":188},{"c":"PT","d":"2015-10-28","v":201},{"c":"PT","d":"2015-11-05","v":206},{"c":"PT","d":"2015-11-14","v":219},{"c":"PT","d":"2015-11-22","v":196},{"c":"PT","d":"2015-12-02","v":180},{"c":"PT","d":"2015-12-14","v":193},{"c":"PT","d":"2015-12-26","v":191},{"c":"PT","d":"2016-01-01","v":188},{"c":"PT","d":"2016-01-11","v":212},{"c":"PT","d":"2016-01-19","v":225},{"c":"PT","d":"2016-01-22","v":261},{"c":"PT","d":"2016-01-28","v":253},{"c":"PT","d":"2016-02-03","v":275},{"c":"PT","d":"2016-02-07","v":314},{"c":"PT","d":"2016-02-12","v":393},{"c":"PT","d":"2016-02-15","v":332},{"c":"PT","d":"2016-02-19","v":322},{"c":"PT","d":"2016-02-25","v":330},{"c":"PT","d":"2016-02-29","v":293},{"c":"PT","d":"2016-03-05","v":282},{"c":"PT","d":"2016-03-09","v":295},{"c":"PT","d":"2016-03-13","v":269},{"c":"PT","d":"2016-03-17","v":263},{"c":"PT","d":"2016-03-25","v":277},{"c":"PT","d":"2016-04-02","v":280},{"c":"PT","d":"2016-04-09","v":332},{"c":"PT","d":"2016-04-14","v":306},{"c":"PT","d":"2016-04-20","v":298},{"c":"PT","d":"2016-04-26","v":303},{"c":"PT","d":"2016-05-03","v":285},{"c":"PT","d":"2016-05-10","v":322},{"c":"PT","d":"2016-05-17","v":296},{"c":"PT","d":"2016-05-25","v":282},{"c":"PT","d":"2016-06-02","v":306},{"c":"PT","d":"2016-06-08","v":311},{"c":"PT","d":"2016-06-15","v":343},{"c":"PT","d":"2016-06-21","v":306},{"c":"PT","d":"2016-06-26","v":340},{"c":"PT","d":"2016-07-01","v":319},{"c":"PT","d":"2016-07-08","v":327},{"c":"PT","d":"2016-07-14","v":314},{"c":"PT","d":"2016-07-22","v":309},{"c":"PT","d":"2016-07-30","v":298},{"c":"PT","d":"2016-08-07","v":288},{"c":"PT","d":"2016-08-13","v":277},{"c":"PT","d":"2016-08-19","v":309},{"c":"PT","d":"2016-08-27","v":311},{"c":"PT","d":"2016-09-06","v":314},{"c":"PT","d":"2016-09-14","v":338},{"c":"PT","d":"2016-09-20","v":345},{"c":"PT","d":"2016-09-26","v":353},{"c":"PT","d":"2016-10-02","v":345},{"c":"PT","d":"2016-10-06","v":356},{"c":"PT","d":"2016-10-14","v":327},{"c":"PT","d":"2016-10-22","v":319},{"c":"PT","d":"2016-10-30","v":314},{"c":"PT","d":"2016-11-07","v":305},{"c":"PT","d":"2016-11-13","v":327},{"c":"PT","d":"2016-11-18","v":357},{"c":"PT","d":"2016-11-23","v":338},{"c":"PT","d":"2016-11-29","v":340},{"c":"PT","d":"2016-12-07","v":317},{"c":"PT","d":"2016-12-09","v":345},{"c":"PT","d":"2016-12-17","v":348},{"c":"PT","d":"2016-12-25","v":353},{"c":"PT","d":"2016-12-31","v":359},{"c":"PT","d":"2017-01-04","v":377},{"c":"PT","d":"2017-01-10","v":361},{"c":"PT","d":"2017-01-16","v":349},{"c":"PT","d":"2017-01-22","v":344},{"c":"PT","d":"2017-01-28","v":374},{"c":"PT","d":"2017-02-05","v":389},{"c":"PT","d":"2017-02-10","v":374},{"c":"PT","d":"2017-02-16","v":369},{"c":"PT","d":"2017-02-24","v":371},{"c":"PT","d":"2017-03-04","v":361},{"c":"PT","d":"2017-03-12","v":353},{"c":"PT","d":"2017-03-16","v":383},{"c":"PT","d":"2017-03-22","v":377},{"c":"PT","d":"2017-03-30","v":362},{"c":"PT","d":"2017-04-05","v":366},{"c":"PT","d":"2017-04-10","v":362},{"c":"PT","d":"2017-04-16","v":369},{"c":"PT","d":"2017-04-22","v":340},{"c":"PT","d":"2017-04-28","v":319},{"c":"PT","d":"2017-05-04","v":301},{"c":"PT","d":"2017-05-10","v":298},{"c":"PT","d":"2017-05-16","v":282},{"c":"PT","d":"2017-05-22","v":277},{"c":"PT","d":"2017-05-30","v":282},{"c":"PT","d":"2017-06-07","v":269},{"c":"PT","d":"2017-06-15","v":261},{"c":"PT","d":"2017-06-23","v":267},{"c":"PT","d":"2017-07-01","v":254},{"c":"PT","d":"2017-07-08","v":256},{"c":"PT","d":"2017-07-18","v":246},{"c":"PT","d":"2017-07-28","v":235},{"c":"PT","d":"2017-08-05","v":238},{"c":"PT","d":"2017-08-11","v":246},{"c":"PT","d":"2017-08-19","v":235},{"c":"PT","d":"2017-08-25","v":248},{"c":"PT","d":"2017-09-02","v":248},{"c":"PT","d":"2017-09-12","v":246},{"c":"PT","d":"2017-09-15","v":222},{"c":"PT","d":"2017-09-19","v":196},{"c":"PT","d":"2017-09-25","v":198},{"c":"PT","d":"2017-10-03","v":193},{"c":"PT","d":"2017-10-11","v":191},{"c":"PT","d":"2017-10-19","v":191},{"c":"PT","d":"2017-10-27","v":177},{"c":"PT","d":"2017-11-06","v":164},{"c":"PT","d":"2017-11-16","v":159},{"c":"PT","d":"2017-11-28","v":154},{"c":"PT","d":"2017-12-10","v":151},{"c":"PT","d":"2017-12-20","v":143},{"c":"PT","d":"2017-12-28","v":146},{"c":"PT","d":"2018-01-04","v":138},{"c":"PT","d":"2018-01-12","v":122},{"c":"PT","d":"2018-01-18","v":130},{"c":"PT","d":"2018-01-20","v":135},{"c":"PT","d":"2018-01-28","v":130},{"c":"PT","d":"2018-02-07","v":135},{"c":"PT","d":"2018-02-17","v":133},{"c":"PT","d":"2018-02-27","v":128},{"c":"PT","d":"2018-03-07","v":117},{"c":"PT","d":"2018-03-15","v":120},{"c":"PT","d":"2018-03-23","v":115},{"c":"PT","d":"2018-03-31","v":109},{"c":"PT","d":"2018-04-07","v":117},{"c":"PT","d":"2018-04-15","v":109},{"c":"PT","d":"2018-04-23","v":104},{"c":"PT","d":"2018-05-01","v":112},{"c":"PT","d":"2018-05-09","v":109},{"c":"PT","d":"2018-05-15","v":120},{"c":"PT","d":"2018-05-21","v":154},{"c":"PT","d":"2018-05-27","v":193},{"c":"PT","d":"2018-05-31","v":143},{"c":"PT","d":"2018-06-06","v":159},{"c":"PT","d":"2018-06-12","v":143},{"c":"PT","d":"2018-06-18","v":149},{"c":"PT","d":"2018-06-26","v":154},{"c":"PT","d":"2018-07-03","v":149},{"c":"PT","d":"2018-07-09","v":149},{"c":"PT","d":"2018-07-17","v":141},{"c":"PT","d":"2018-07-25","v":135},{"c":"PT","d":"2018-08-02","v":138},{"c":"PT","d":"2018-08-10","v":149},{"c":"PT","d":"2018-08-16","v":154},{"c":"PT","d":"2018-08-24","v":146},{"c":"PT","d":"2018-08-30","v":159},{"c":"PT","d":"2018-09-06","v":146},{"c":"PT","d":"2018-09-14","v":141},{"c":"PT","d":"2018-09-24","v":135},{"c":"PT","d":"2018-10-02","v":146},{"c":"PT","d":"2018-10-10","v":149},{"c":"PT","d":"2018-10-18","v":159},{"c":"PT","d":"2018-10-26","v":151},{"c":"PT","d":"2018-11-03","v":156},{"c":"PT","d":"2018-11-11","v":154},{"c":"PT","d":"2018-11-19","v":161},{"c":"PT","d":"2018-11-27","v":154},{"c":"PT","d":"2018-12-04","v":156},{"c":"PT","d":"2018-12-12","v":141},{"c":"PT","d":"2018-12-20","v":143},{"c":"PT","d":"2018-12-30","v":149},{"c":"PT","d":"2019-01-05","v":159},{"c":"PT","d":"2019-01-11","v":151},{"c":"PT","d":"2019-01-19","v":149},{"c":"PT","d":"2019-01-29","v":146},{"c":"PT","d":"2019-02-06","v":154},{"c":"PT","d":"2019-02-12","v":146},{"c":"PT","d":"2019-02-20","v":130},{"c":"PT","d":"2019-02-28","v":128},{"c":"PT","d":"2019-03-07","v":125},{"c":"PT","d":"2019-03-15","v":120},{"c":"PT","d":"2019-03-23","v":130},{"c":"PT","d":"2019-03-31","v":122},{"c":"PT","d":"2019-04-08","v":115},{"c":"PT","d":"2019-04-16","v":117},{"c":"PT","d":"2019-04-24","v":112},{"c":"PT","d":"2019-05-01","v":109},{"c":"PT","d":"2019-05-07","v":112},{"c":"PT","d":"2019-05-13","v":120},{"c":"PT","d":"2019-05-19","v":109},{"c":"PT","d":"2019-05-25","v":112},{"c":"PT","d":"2019-06-01","v":101}
]
},
"layer": [
{
"data": {"name": "s"},
"mark": {"type": "line", "strokeWidth": 4.2, "clip": true},
"encoding": {
"x": {"field": "d", "type": "temporal",
"scale": {"type": "utc", "domain": [{"year": 2014, "month": 10, "date": 10, "utc": true}, {"year": 2019, "month": 8, "date": 17, "utc": true}]},
"axis": {"title": null, "tickCount": {"interval": "month", "step": 6}, "labelExpr": "utcFormat(datum.value, '%b-%y')", "labelFontSize": 27, "labelColor": "#333333", "labelPadding": 20, "ticks": false, "domain": false, "grid": true, "gridColor": "#eeeeee", "gridWidth": 1.5, "labelFlush": false, "labelOverlap": false}},
"y": {"field": "v", "type": "quantitative",
"scale": {"domain": [0, 402], "nice": false, "zero": false},
"axis": {"title": "bps", "titleFontSize": 24, "titleFontWeight": "normal", "titleColor": "#333333", "titlePadding": 20, "values": [0, 100, 200, 300, 400], "labelFontSize": 27, "labelColor": "#333333", "labelPadding": 12, "ticks": false, "domain": true, "domainColor": "#eeeeee", "domainWidth": 1.5, "grid": true, "gridColor": "#eeeeee", "gridWidth": 1.5, "labelOffset": {"condition": {"test": "datum.value === 0", "value": -20}, "value": 0}}},
"color": {"field": "c", "type": "nominal",
"scale": {"domain": ["ES", "FR", "IE", "IT", "PT"], "range": ["#1f5fb9", "#fdca0f", "#f08bbd", "#4cb748", "#22bcee"]},
"legend": {"title": null, "orient": "right", "offset": 31, "symbolType": "square", "symbolSize": 900, "symbolStrokeWidth": 0, "labelFontSize": 27, "labelColor": "#333333", "rowPadding": 22, "labelOffset": 10, "padding": -8,
"encode": {"symbols": {"update": {"fill": {"scale": "color", "field": "value"}, "opacity": {"value": 1}}}}}}
}
},
{
"data": {"name": "ev"},
"mark": {"type": "rule", "color": "#e30613", "strokeWidth": 5, "strokeDash": [24, 15]},
"encoding": {"x": {"field": "d", "type": "temporal"}}
},
{
"data": {"name": "lab"},
"mark": {"type": "text", "color": "#e3262b", "fontSize": 29, "align": "center", "baseline": "middle", "font": "Liberation Sans"},
"encoding": {"x": {"field": "d", "type": "temporal"}, "y": {"field": "v", "type": "quantitative"}, "text": {"field": "t"}}
}
]
}
